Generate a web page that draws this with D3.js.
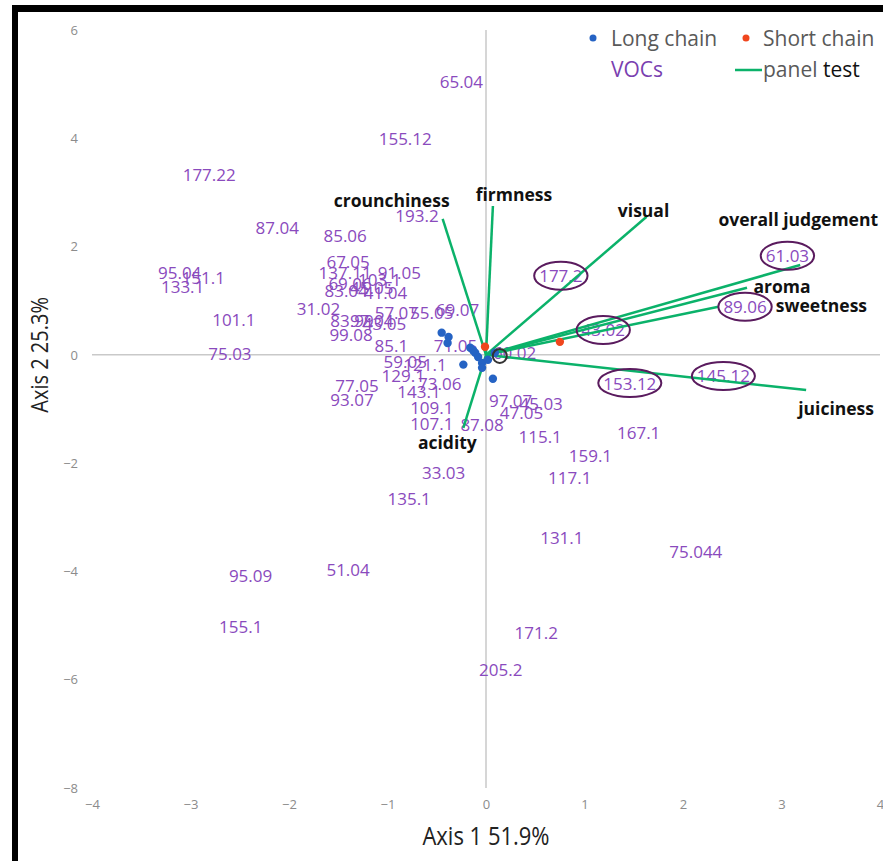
<!DOCTYPE html>
<html>
<head>
<meta charset="utf-8">
<script src="https://cdn.jsdelivr.net/npm/d3@7"></script>
<style>
  body { margin: 0; background: #fff; }
  svg { display: block; }
</style>
</head>
<body>
<svg id="chart" width="883" height="861"></svg>
<script>
// VOC loadings on the first two axes
const vocNames = ["65.04","155.12","177.22","193.2","87.04","85.06","67.05","137.11","91.05","103.1",
  "69.06","83.04","45.05","41.04","95.04","151.1","133.1","101.1","31.02","57.07",
  "55.05","69.07","83.99","97.04","43.05","99.08","85.1","71.05","59.05","121.1",
  "129.1","73.06","77.05","93.07","143.1","109.1","107.1","87.08","97.07","45.03",
  "47.05","115.1","167.1","159.1","117.1","33.03","135.1","131.1","75.044","95.09",
  "51.04","155.1","171.2","205.2","75.03","177.2","43.02","153.12","145.12","61.03",
  "89.06","60.02"];
const vocAxis1 = [-0.25,-0.82,-2.81,-0.70,-2.12,-1.43,-1.40,-1.43,-0.88,-1.08,
  -1.38,-1.42,-1.16,-1.02,-3.11,-2.87,-3.08,-2.56,-1.70,-0.91,
  -0.55,-0.29,-1.36,-1.16,-1.03,-1.37,-0.96,-0.31,-0.82,-0.62,
  -0.84,-0.47,-1.31,-1.36,-0.68,-0.55,-0.55,-0.04,0.25,0.56,
  0.36,0.55,1.55,1.06,0.85,-0.43,-0.78,0.77,2.13,-2.39,
  -1.40,-2.49,0.51,0.15,-2.60,0.76,1.19,1.46,2.41,3.06,
  2.63,0.29];
const vocAxis2 = [5.04,3.99,3.34,2.57,2.36,2.20,1.72,1.53,1.53,1.40,
  1.31,1.18,1.24,1.16,1.53,1.42,1.27,0.65,0.85,0.78,
  0.79,0.83,0.63,0.63,0.57,0.37,0.18,0.17,-0.13,-0.18,
  -0.39,-0.52,-0.57,-0.83,-0.68,-0.98,-1.26,-1.29,-0.85,-0.89,
  -1.07,-1.50,-1.44,-1.85,-2.27,-2.18,-2.66,-3.38,-3.64,-4.08,
  -3.97,-5.01,-5.12,-5.82,0.02,1.46,0.46,-0.52,-0.39,1.83,
  0.89,0.04];
// VOCs singled out with an ellipse
const highlightedVocs = ["177.2","43.02","153.12","145.12","61.03","89.06"];
const markedPoint = [0.14, -0.02];

// Sample scores
const longChainX = [-0.45,-0.38,-0.39,-0.16,-0.11,-0.08,-0.04,-0.04,0.02,-0.23,0.07,0.09,-0.13];
const longChainY = [0.41,0.33,0.22,0.13,0.04,-0.04,-0.15,-0.24,-0.09,-0.18,-0.44,0.04,0.08];
const shortChainX = [-0.01, 0.75];
const shortChainY = [0.15, 0.24];

// Sensory panel attributes (vectors from the origin)
const panelNames = ["crounchiness","firmness","visual","overall judgement","aroma","sweetness","juiciness","acidity"];
const panelAxis1 = [-0.44, 0.07, 1.63, 3.19, 2.65, 2.36, 3.25, -0.23];
const panelAxis2 = [2.51, 2.75, 2.55, 1.66, 1.24, 0.89, -0.65, -1.35];

// Axis ticks
const xTicks = [-4,-3,-2,-1,0,1,2,3,4];
const yTicks = [-8,-6,-4,-2,0,2,4,6];

// Label placement relative to each vector tip (pixels)
const panelLabelOffset = {
  "crounchiness": [-51,-19], "firmness": [21,-12], "visual": [-3,-7],
  "overall judgement": [-2,-46], "aroma": [35,-2], "sweetness": [103,-2],
  "juiciness": [30,18], "acidity": [-16,14]
};

const svg = d3.select("#chart");
const x = d3.scaleLinear().domain([-4, 4]).range([92, 880]);
const y = d3.scaleLinear().domain([-8, 6]).range([788, 30]);

const PURPLE = "#8a4abd";
const GREEN = "#0bb26a";
const BLUE = "#2563c4";
const RED = "#f0461e";
const FONT = "'Open Sans', 'Noto Sans', sans-serif";

svg.append("rect").attr("width", 883).attr("height", 861).attr("fill", "#fff");

// zero lines
svg.append("line").attr("x1", x(-4)).attr("x2", x(4)).attr("y1", y(0)).attr("y2", y(0))
  .attr("stroke", "#c9c9c9").attr("stroke-width", 1.5);
svg.append("line").attr("x1", x(0)).attr("x2", x(0)).attr("y1", y(6)).attr("y2", y(-8))
  .attr("stroke", "#c9c9c9").attr("stroke-width", 1.5);

// tick labels
const xAxis = svg.append("g").attr("transform", `translate(0, 800)`)
  .call(d3.axisBottom(x).tickValues(xTicks).tickSize(0).tickPadding(0).tickFormat(d3.format("d")));
const yAxis = svg.append("g").attr("transform", `translate(78, 0)`)
  .call(d3.axisLeft(y).tickValues(yTicks).tickSize(0).tickPadding(0).tickFormat(d3.format("d")));
[xAxis, yAxis].forEach(g => {
  g.select(".domain").remove();
  g.selectAll("text").attr("fill", "#8c8c8c").style("font-family", FONT).style("font-size", "13px");
});

// axis titles
svg.append("text").attr("transform", `translate(${x(0)}, 845) scale(1, 1.15)`).attr("text-anchor", "middle")
  .style("font-family", FONT).style("font-size", "22px").attr("fill", "#222")
  .text("Axis 1 51.9%");
svg.append("text").attr("transform", `translate(48, ${y(0)}) rotate(-90) scale(1, 1.15)`).attr("text-anchor", "middle")
  .style("font-family", FONT).style("font-size", "20px").attr("fill", "#222")
  .text("Axis 2 25.3%");

// VOC labels
const vocs = vocNames.map((n, i) => ({ name: n, a1: vocAxis1[i], a2: vocAxis2[i] }));
const vocLabels = svg.append("g").selectAll("text").data(vocs).join("text")
  .attr("x", d => x(d.a1)).attr("y", d => y(d.a2))
  .attr("text-anchor", "middle").attr("dominant-baseline", "central")
  .style("font-family", FONT).style("font-size", "17px").attr("fill", PURPLE)
  .text(d => d.name);

// panel vectors
const panel = panelNames.map((n, i) => ({ name: n, a1: panelAxis1[i], a2: panelAxis2[i] }));
svg.append("g").selectAll("line").data(panel).join("line")
  .attr("x1", x(0)).attr("y1", y(0))
  .attr("x2", d => x(d.a1)).attr("y2", d => y(d.a2))
  .attr("stroke", GREEN).attr("stroke-width", 2.5);

// sample points
const longChain = longChainX.map((v, i) => [v, longChainY[i]]);
const shortChain = shortChainX.map((v, i) => [v, shortChainY[i]]);
svg.append("g").selectAll("circle").data(longChain).join("circle")
  .attr("cx", d => x(d[0])).attr("cy", d => y(d[1])).attr("r", 4.2).attr("fill", BLUE);
svg.append("g").selectAll("circle").data(shortChain).join("circle")
  .attr("cx", d => x(d[0])).attr("cy", d => y(d[1])).attr("r", 4.2).attr("fill", RED);

// highlight ellipses around selected VOCs
const hl = svg.append("g");
vocLabels.filter(d => highlightedVocs.includes(d.name)).each(function(d) {
  const b = this.getBBox();
  hl.append("ellipse")
    .attr("cx", b.x + b.width / 2).attr("cy", b.y + b.height / 2)
    .attr("rx", b.width / 2 + 5).attr("ry", 14)
    .attr("fill", "none").attr("stroke", "#5a1b5e").attr("stroke-width", 2);
});
svg.append("circle").attr("cx", x(markedPoint[0])).attr("cy", y(markedPoint[1])).attr("r", 7)
  .attr("fill", "none").attr("stroke", "#333").attr("stroke-width", 2);

// panel labels
svg.append("g").selectAll("text").data(panel).join("text")
  .attr("x", d => x(d.a1) + panelLabelOffset[d.name][0])
  .attr("y", d => y(d.a2) + panelLabelOffset[d.name][1])
  .attr("text-anchor", "middle").attr("dominant-baseline", "central")
  .style("font-family", FONT).style("font-size", "17.5px").style("font-weight", "700")
  .attr("fill", "#111").text(d => d.name);

// legend
const lg = svg.append("g").style("font-family", FONT).style("font-size", "21px");
lg.append("circle").attr("cx", 593).attr("cy", 38).attr("r", 3.5).attr("fill", BLUE);
lg.append("text").attr("x", 611).attr("y", 46).attr("fill", "#595959").text("Long chain");
lg.append("circle").attr("cx", 746).attr("cy", 38).attr("r", 3.5).attr("fill", RED);
lg.append("text").attr("x", 763).attr("y", 46).attr("fill", "#595959").text("Short chain");
lg.append("text").attr("x", 611).attr("y", 77).attr("fill", "#7a3fb0").text("VOCs");
lg.append("line").attr("x1", 735).attr("x2", 762).attr("y1", 70).attr("y2", 70)
  .attr("stroke", GREEN).attr("stroke-width", 2.5);
const pt = lg.append("text").attr("x", 763).attr("y", 77);
pt.append("tspan").attr("fill", "#595959").text("panel ");
pt.append("tspan").attr("fill", "#111").text("test");

// frame
svg.append("rect").attr("x", 12).attr("y", 5).attr("width", 871).attr("height", 7).attr("fill", "#000");
svg.append("rect").attr("x", 12).attr("y", 5).attr("width", 6).attr("height", 856).attr("fill", "#000");
</script>
</body>
</html>
